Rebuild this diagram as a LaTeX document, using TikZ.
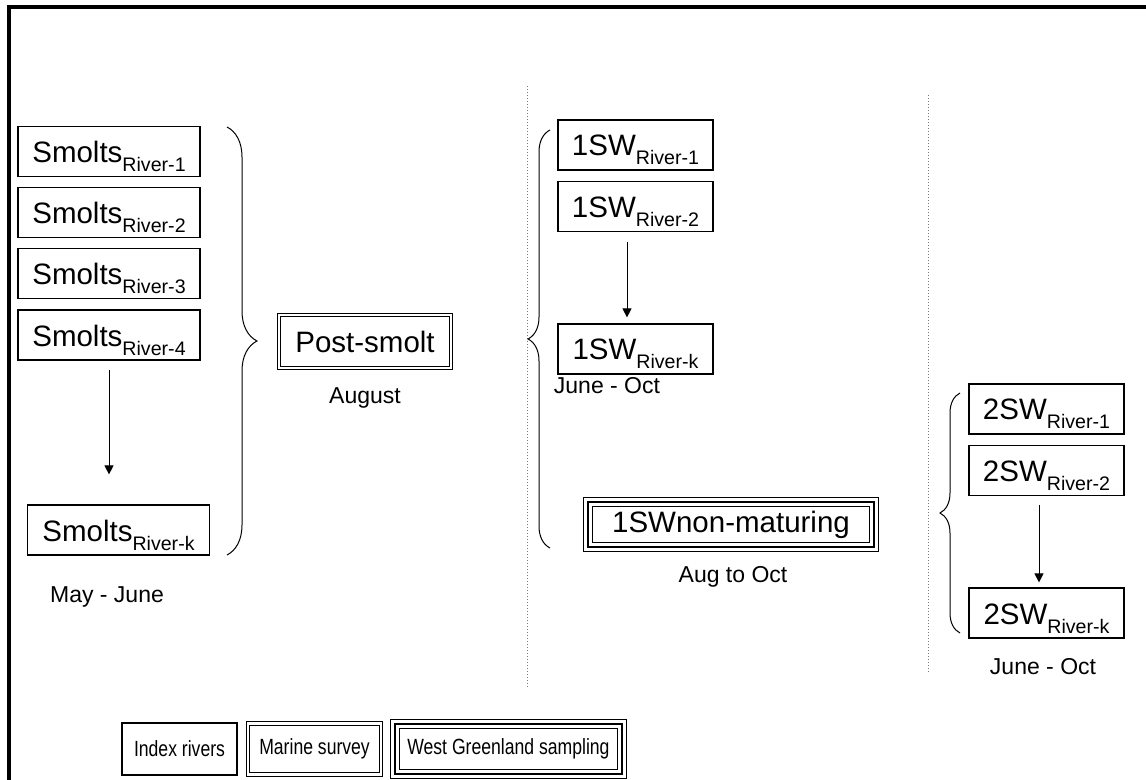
\documentclass[tikz,border=0pt]{standalone}
\usepackage{fontspec}
\setmainfont{Liberation Sans}
\usepackage{tikz}
\usetikzlibrary{arrows.meta,decorations.pathreplacing,positioning}
\definecolor{salInk}{HTML}{000000}
\definecolor{salDots}{HTML}{7A7A7A}
\newcommand{\riv}[1]{\raisebox{-4.5pt}{\fontsize{9.8pt}{10pt}\selectfont River-#1}}
\newcommand{\keytext}[1]{\scalebox{0.8}[1]{#1}}
\tikzset{
  sal diagram/.style={font=\fontsize{14.75pt}{16pt}\selectfont, text=salInk,
    line join=miter},
  sal box/.style={draw=salInk, fill=white, line width=0.6pt, inner sep=0pt,
    minimum height=25pt, text height=11pt, text depth=0pt},
  sal river box/.style={sal box, minimum width=91pt},
  sal sw box/.style={sal box, minimum width=77.5pt},
  sal double/.style={draw=salInk, line width=0.45pt, double=white,
    double distance=1.2pt, inner sep=0pt},
  sal triple/.style={draw=salInk, line width=0.45pt, double=white,
    double distance=4pt, inner sep=0pt,
    postaction={draw=salInk, line width=1.3pt}},
  sal arrow/.style={-{Triangle[length=4.5pt,width=4.5pt]}, draw=salInk, line width=0.5pt},
  sal brace/.style={decorate, draw=salInk, line width=0.5pt},
  sal divider/.style={draw=salDots, line width=0.5pt, densely dotted},
  sal label/.style={font=\fontsize{11.5pt}{13pt}\selectfont},
  sal key/.style={font=\fontsize{11pt}{13pt}\selectfont}
}
\begin{document}
\begin{tikzpicture}[sal diagram,x=0.5pt,y=-0.5pt]
\useasboundingbox (0,0) rectangle (1146,780);
\draw[line width=2pt] (9,780) -- (9,7) -- (1146,7);
\draw[sal divider] (527,86) -- (527,687);
\draw[sal divider] (928,95) -- (928,673);
% smolts leaving the index rivers
\node[sal river box] (s1) at (109,151.5) {Smolts\riv{1}};
\node[sal river box,below=5pt of s1] (s2) {Smolts\riv{2}};
\node[sal river box,below=5pt of s2] (s3) {Smolts\riv{3}};
\node[sal river box,below=5pt of s3] (s4) {Smolts\riv{4}};
\node[sal river box] (sk) at (118.5,530) {Smolts\riv{k}};
\node[sal label] (smoltdate) at (107,597) {May - June};
\draw[sal arrow] ([yshift=-4.5pt]s4.south) -- ([yshift=15pt]sk.north -| s4.south);
\draw[sal brace,decoration={brace,amplitude=15pt}] (227,127) -- (227,555);
% marine survey
\node[sal double,minimum width=86pt,minimum height=26.5pt] (post) at (365,341.5) {Post-smolt};
\node[sal label] (postdate) at (365,398) {August};
% one sea winter
\node[sal sw box] (w1) at (635.5,145) {1SW\riv{1}};
\node[sal sw box,below=5pt of w1] (w2) {1SW\riv{2}};
\node[sal sw box] (wk) at (635.5,349) {1SW\riv{k}};
\node[sal label] (wdate) at (607,386) {June - Oct};
\draw[sal arrow] ([xshift=-4.25pt,yshift=-5pt]w2.south) -- ([xshift=-4.25pt,yshift=3pt]wk.north);
\draw[sal brace,decoration={brace,amplitude=11pt}] (550,548) -- (550,130);
\node[sal triple,minimum width=143pt,minimum height=22.6pt] (nonmat) at (731,524.5) {1SWnon-maturing};
\node[sal label] (nonmatdate) at (733,577) {Aug to Oct};
% two sea winter
\node[sal sw box] (t1) at (1046.5,409) {2SW\riv{1}};
\node[sal sw box,below=5pt of t1] (t2) {2SW\riv{2}};
\node[sal sw box] (tk) at (1046.5,613) {2SW\riv{k}};
\node[sal label] (tdate) at (1043,667) {June - Oct};
\draw[sal arrow] ([xshift=-3.75pt,yshift=-4.5pt]t2.south) -- ([xshift=-3.75pt,yshift=2.5pt]tk.north);
\draw[sal brace,decoration={brace,amplitude=10pt}] (960,633) -- (960,393);
% key
\node[sal box,sal key,minimum width=57.5pt,minimum height=26pt,text height=] (idx) at (179.5,749) {\keytext{Index rivers}};
\node[sal double,sal key,minimum width=66.5pt,minimum height=25.5pt,right=5pt of idx] (mar) {\keytext{Marine survey}};
\node[sal triple,sal key,minimum width=113.5pt,minimum height=25pt,right=6.5pt of mar] (wgs) {\keytext{West Greenland sampling}};
\end{tikzpicture}
\end{document}
